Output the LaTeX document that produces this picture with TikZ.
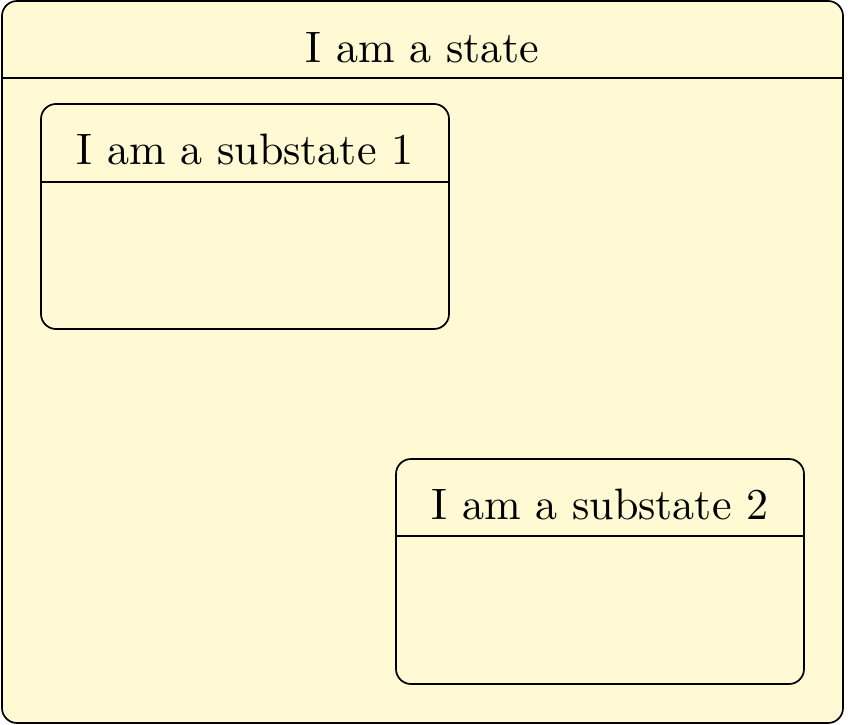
\documentclass[tikz,border=0pt]{standalone}
\usepackage{fontspec}
\begin{document}
\begin{tikzpicture}[x=1pt,y=-1pt,
  statebox/.style={draw=black, fill=stfill, line width=1.7pt, rounded corners=15pt, inner sep=0pt},
  sep/.style={draw=black, line width=1.7pt},
  stitle/.style={anchor=base, inner sep=0pt, scale=4.4, font=\fontsize{10}{12}\selectfont}]
\definecolor{stfill}{HTML}{FFFAD4}
\useasboundingbox (0,0) rectangle (860,725);
% outer state
\node[statebox, minimum width=841pt, minimum height=722pt] (outer) at (422.5,362) {};
\coordinate (oL) at (2,78);
\coordinate (oR) at (843,78);
\draw[sep] (oL) -- (oR);
\node[stitle] (t0) at (422.5,63) {I am a state};
% substate 1
\node[statebox, minimum width=408pt, minimum height=225pt] (s1) at (245,216.5) {};
\coordinate (s1L) at (41,182);
\coordinate (s1R) at (449,182);
\draw[sep] (s1L) -- (s1R);
\node[stitle] (t1) at (245,164) {I am a substate 1};
% substate 2
\node[statebox, minimum width=408pt, minimum height=225pt] (s2) at (600,571.5) {};
\coordinate (s2L) at (396,536);
\coordinate (s2R) at (804,536);
\draw[sep] (s2L) -- (s2R);
\node[stitle] (t2) at (600,519) {I am a substate 2};
\end{tikzpicture}
\end{document}
